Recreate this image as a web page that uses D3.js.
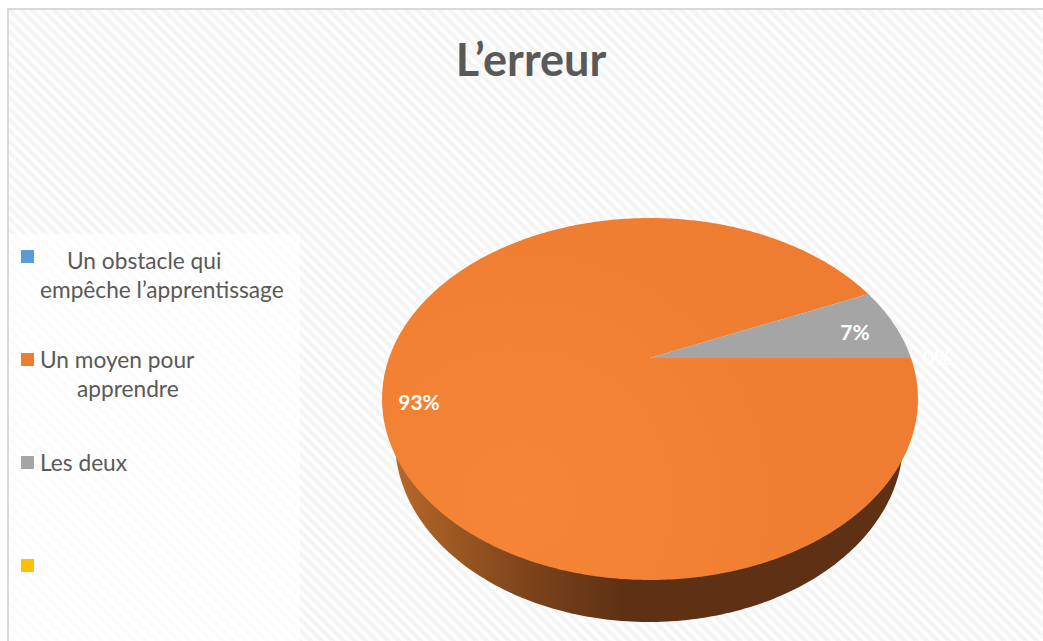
<!DOCTYPE html>
<html><head><meta charset="utf-8">
<style>html,body{margin:0;padding:0;background:#fff}svg{display:block}text{font-family:Lato,"Open Sans",sans-serif}</style>
<script src="https://cdn.jsdelivr.net/npm/d3@7/dist/d3.min.js"></script>
</head><body><script>
const titleText = "L’erreur";
const categories = ["Un obstacle qui empêche l’apprentissage", "Un moyen pour apprendre", "Les deux", ""];
const values = [0, 14, 1, 0];
const showLabel = [true, true, true, false];
const colors = ["#5b9bd5", "#ed7d31", "#a5a5a5", "#ffc000"];
const legendLines = [["Un obstacle qui", "empêche l’apprentissage"], ["Un moyen pour", "apprendre"], ["Les deux"], []];
const legendLineX = [[67, 40], [40, 77], [40], []];
const legendTextY = [269, 368, 471, 0];
const labelPos = [[937, 358], [419, 403], [855, 333], null];

const W = 1043, H = 641;
const svg = d3.select("body").append("svg").attr("width", W).attr("height", H);
const defs = svg.append("defs");

const pat = defs.append("pattern").attr("id", "hatch").attr("patternUnits", "userSpaceOnUse")
  .attr("width", 11).attr("height", 11);
pat.append("rect").attr("width", 11).attr("height", 11).attr("fill", "#fefefe");
pat.append("path").attr("d", "M-2,-2L13,13M-2,9L2,13M9,-2L13,2").attr("stroke", "#f5f5f5").attr("stroke-width", 4);

const wallG = defs.append("linearGradient").attr("id", "wall").attr("gradientUnits", "userSpaceOnUse")
  .attr("x1", 382).attr("x2", 918).attr("y1", 0).attr("y2", 0);
[[0, "#bd6c2d"], [0.12, "#a05a22"], [0.27, "#7d441b"], [0.45, "#5e3114"], [1, "#5e3114"]].forEach(([o, c]) =>
  wallG.append("stop").attr("offset", o).attr("stop-color", c));

const topG = defs.append("radialGradient").attr("id", "top").attr("gradientUnits", "userSpaceOnUse")
  .attr("cx", 520).attr("cy", 500).attr("r", 340);
[[0, "#f68537"], [1, "#ef7d31"]].forEach(([o, c]) => topG.append("stop").attr("offset", o).attr("stop-color", c));

// background and frame
svg.append("rect").attr("x", 8).attr("y", 9).attr("width", W - 8).attr("height", H - 9).attr("fill", "url(#hatch)");
svg.append("path").attr("d", `M8,${H}V9H${W}`).attr("fill", "none").attr("stroke", "#d9d9d9").attr("stroke-width", 2);
svg.append("rect").attr("x", 9).attr("y", 234).attr("width", 291).attr("height", H - 234).attr("fill", "#fff").attr("opacity", 0.72);

// title
svg.append("text").attr("x", 531).attr("y", 76).attr("text-anchor", "middle")
  .attr("font-size", 45).attr("font-weight", 700).attr("fill", "#595959").text(titleText);

// perspective pie: d3 angle -> projected disc
const cx = 650, apexY = 358, k = -0.2265, A = 261, B = 171.7;
const project = a => {
  const u = Math.sin(a), v = -Math.cos(a), d = 1 + k * v;
  return [cx + A * u / d, apexY + B * v / d];
};
const pie = d3.pie().sort(null).startAngle(Math.PI / 2).endAngle(Math.PI / 2 + 2 * Math.PI)(values);
const line = d3.line();
const pct = d3.format(".0%");
const total = d3.sum(values);

// wall: lower half of a shifted ellipse, behind the top face
const wallCx = 649, wallRx = 254, wallRy = 181, wallCy = 441;
const wallPts = d3.range(0, Math.PI + 0.01, 0.02).map(t => [wallCx + wallRx * Math.cos(t), wallCy + wallRy * Math.sin(t)]);
svg.append("path").attr("d", line(wallPts) + "Z").attr("fill", "url(#wall)");

// top face
svg.append("g").selectAll("path").data(pie.filter(d => d.value > 0)).join("path")
  .attr("d", d => {
    const n = Math.max(2, Math.ceil((d.endAngle - d.startAngle) / 0.01));
    const pts = d3.range(n + 1).map(i => project(d.startAngle + (d.endAngle - d.startAngle) * i / n));
    return line([[cx, apexY], ...pts]) + "Z";
  })
  .attr("fill", d => d.index === 1 ? "url(#top)" : colors[d.index]);

// data labels
svg.append("g").selectAll("text").data(values.map((v, i) => ({v, i})).filter(d => showLabel[d.i])).join("text")
  .attr("x", d => labelPos[d.i][0]).attr("y", d => labelPos[d.i][1]).attr("dy", "0.35em").attr("text-anchor", "middle")
  .attr("font-size", 21).attr("font-weight", 700).attr("fill", "#fff").text(d => pct(d.v / total));

// legend
const rowY = d3.scalePoint().domain(categories).range([256.5, 565.5]);
const leg = svg.append("g").selectAll("g").data(categories).join("g");
leg.append("rect").attr("x", 21).attr("y", d => rowY(d) - 6.5).attr("width", 13).attr("height", 13)
  .attr("fill", (d, i) => colors[i]);
leg.each(function (d, i) {
  d3.select(this).selectAll("text").data(legendLines[i]).join("text")
    .attr("x", (l, j) => legendLineX[i][j]).attr("y", (l, j) => legendTextY[i] + j * 29)
    .attr("font-size", 22.7).attr("fill", "#595959").text(l => l);
});
</script></body></html>
